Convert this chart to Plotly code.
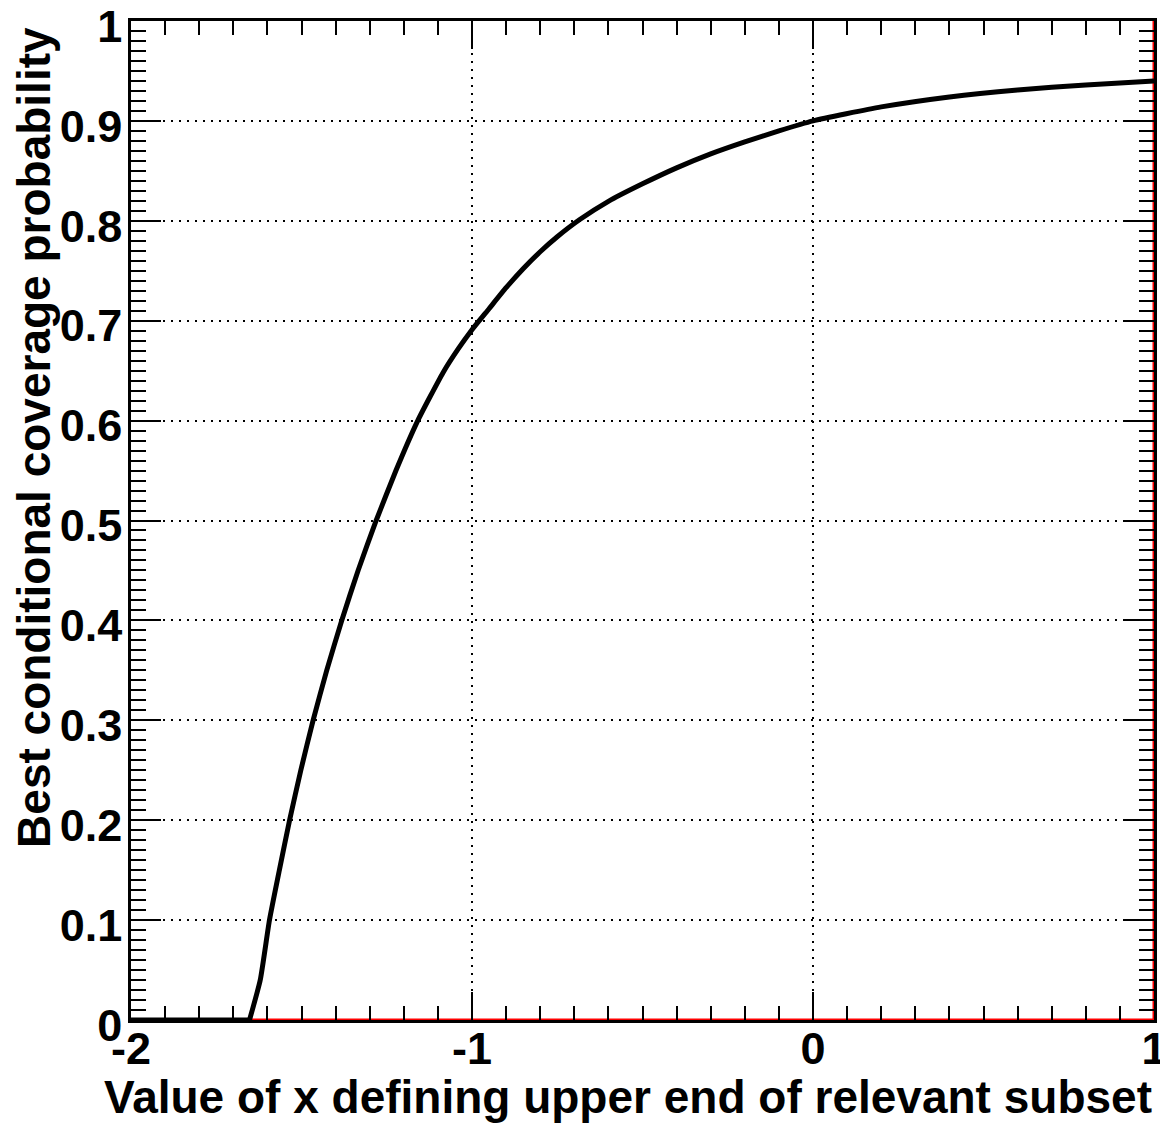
import plotly.graph_objects as go

# Values
x_flat = [-2.0, -1.6525]
y_flat = [0.0, 0.0]

x_curve = [-1.6525, -1.621, -1.594, -1.565, -1.535, -1.502, -1.466, -1.426, -1.382,
           -1.334, -1.281, -1.223, -1.159, -1.085, -1.04, -1.0, -0.95, -0.9, -0.85,
           -0.8, -0.75, -0.685, -0.6, -0.5, -0.4, -0.3, -0.2, -0.1, 0.0,
           0.2, 0.4, 0.6, 0.8, 1.0]
y_curve = [0.0, 0.04, 0.10, 0.15, 0.20, 0.25, 0.30, 0.35, 0.40,
           0.45, 0.50, 0.55, 0.60, 0.648, 0.672, 0.691, 0.712, 0.733, 0.752,
           0.769, 0.784, 0.801, 0.8195, 0.837, 0.853, 0.867, 0.879, 0.890, 0.900,
           0.914, 0.924, 0.931, 0.936, 0.940]

x_red = [-2.0, 1.0, 1.0]
y_red = [0.0, 0.0, 1.0]

x_ticks = [-2, -1, 0, 1]
y_ticks = [0, 0.1, 0.2, 0.3, 0.4, 0.5, 0.6, 0.7, 0.8, 0.9, 1.0]
y_tick_text = ["0", "0.1", "0.2", "0.3", "0.4", "0.5", "0.6", "0.7", "0.8", "0.9", "1"]

x_title = "Value of x defining upper end of relevant subset"
y_title = "Best conditional coverage probability"

FONT = "Liberation Sans, Arial, sans-serif"

fig = go.Figure()
fig.add_trace(go.Scatter(x=x_red, y=y_red, mode="lines",
                         line=dict(color="#ff0000", width=3), hoverinfo="skip"))
fig.add_trace(go.Scatter(x=x_flat, y=y_flat, mode="lines",
                         line=dict(color="black", width=5), hoverinfo="skip"))
fig.add_trace(go.Scatter(x=x_curve, y=y_curve, mode="lines",
                         line=dict(color="black", width=5, shape="spline", smoothing=0.5),
                         hoverinfo="skip"))

# page body has an 8px default margin, so the figure is 8px smaller than the window
fig.update_layout(
    width=1160, height=1118,
    margin=dict(l=123, r=14, t=13, b=106, autoexpand=False),
    paper_bgcolor="white", plot_bgcolor="white",
    showlegend=False,
    font=dict(family=FONT, color="black", size=44),
)

fig.update_xaxes(
    range=[-2, 1], tickvals=x_ticks, ticktext=[str(v) for v in x_ticks],
    ticks="inside", ticklen=28, tickwidth=1.5, tickcolor="black",
    minor=dict(dtick=0.1, tick0=-2, ticks="inside", ticklen=14, tickwidth=1.5,
               tickcolor="black", showgrid=False),
    showline=True, linecolor="black", linewidth=2.5, mirror="allticks",
    showgrid=True, gridcolor="black", griddash="2px,6px", gridwidth=1.5,
    zeroline=False, automargin=False, ticklabeloverflow="allow",
    tickfont=dict(family=FONT, size=45, color="black", weight="bold"),
    ticklabelstandoff=-13,
)
fig.update_yaxes(
    range=[0, 1], tickvals=y_ticks, ticktext=y_tick_text,
    ticks="inside", ticklen=30, tickwidth=1.5, tickcolor="black",
    minor=dict(dtick=0.01, tick0=0, ticks="inside", ticklen=15, tickwidth=1.5,
               tickcolor="black", showgrid=False),
    showline=True, linecolor="black", linewidth=2.5, mirror="allticks",
    showgrid=True, gridcolor="black", griddash="2px,6px", gridwidth=1.5,
    zeroline=False, automargin=False, ticklabeloverflow="allow",
    tickfont=dict(family=FONT, size=45, color="black", weight="bold"),
    ticklabelstandoff=-3, ticklabelshift=5,
)

fig.add_annotation(text=x_title, xref="paper", yref="paper", x=1.0, y=-0.0771,
                   xanchor="right", yanchor="middle", showarrow=False,
                   font=dict(family=FONT, size=46, color="black", weight="bold"))
fig.add_annotation(text=y_title, xref="paper", yref="paper", x=-0.0944, y=0.996,
                   xanchor="center", yanchor="top", textangle=-90, showarrow=False,
                   font=dict(family=FONT, size=46, color="black", weight="bold"))

fig.write_html("out.html")
